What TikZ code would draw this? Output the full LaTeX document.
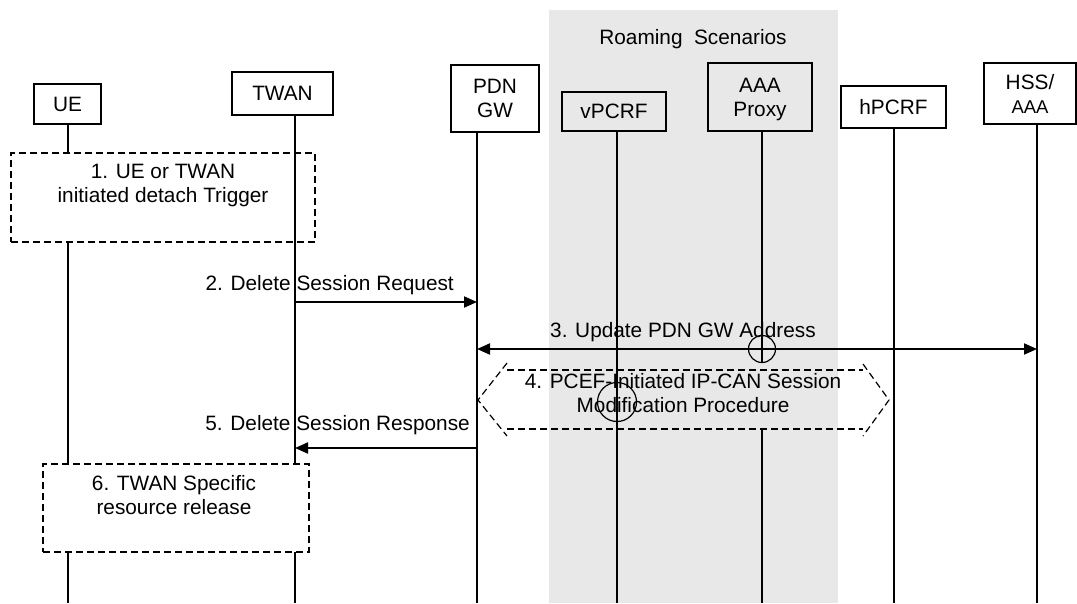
\documentclass[tikz,border=0pt]{standalone}
\usepackage{fontspec}
\setmainfont{Liberation Sans}
\usetikzlibrary{arrows.meta}
\definecolor{roamgray}{HTML}{E8E8E8}
\begin{document}
\begin{tikzpicture}[x=1pt,y=-1pt,
  every node/.style={font=\fontsize{20.8}{24}\selectfont},
  actor/.style={draw,line width=1.4pt,inner sep=0pt,align=center,text depth=0pt},
  life/.style={line width=1.3pt},
  msg/.style={line width=1.9pt,-{Triangle[length=13pt,width=11pt]}},
  dmsg/.style={line width=1.9pt,{Triangle[length=13pt,width=11pt]}-{Triangle[length=13pt,width=11pt]}},
  dbox/.style={draw,line width=1.2pt,dash pattern=on 7pt off 4pt},
  dline/.style={line width=1.2pt,dash pattern=on 7pt off 4pt},
  lbl/.style={inner sep=0pt}
]
\useasboundingbox (0,0) rectangle (1077,603);
% roaming background
\fill[roamgray] (549,10) rectangle (838,603);
\node[lbl,anchor=base] (roam) at (693,44) {Roaming~~Scenarios};

% actors
\node[actor,minimum width=67pt,minimum height=40pt] (ue) at (67.5,104) {UE};
\node[actor,minimum width=101pt,minimum height=43pt] (twan) at (282.5,93.5) {TWAN};
\node[actor,minimum width=88pt,minimum height=67pt] (pdn) at (495,98.5) {PDN\\GW};
\node[actor,minimum width=104pt,minimum height=39pt] (vpcrf) at (614,111.5) {vPCRF};
\node[actor,minimum width=104pt,minimum height=68pt] (aaa) at (760,97) {AAA\\Proxy};
\node[actor,minimum width=105pt,minimum height=42pt] (hpcrf) at (893.5,107) {hPCRF};
\node[actor,minimum width=92pt,minimum height=61pt] (hss) at (1030,93.5) {HSS/\\{\fontsize{18.5}{20}\selectfont AAA}};

% dashed boxes
\node[dbox,minimum width=304pt,minimum height=89pt,inner sep=0pt] (b1) at (163,197.5) {};
\node[lbl,align=center] (b1t) at (163,185) {1. UE or TWAN\\initiated detach Trigger};
\node[dbox,minimum width=266pt,minimum height=88pt,inner sep=0pt] (b6) at (176,508) {};
\node[lbl,align=center] (b6t) at (174,495) {6. TWAN Specific\\resource release};

% lifeline coordinates
\coordinate (ueA) at (68,124);
\coordinate (ueB) at (68,153);
\coordinate (ueC) at (68,242);
\coordinate (ueD) at (68,464);
\coordinate (ueE) at (68,552);
\coordinate (ueF) at (68,603);
\coordinate (twA) at (295,115);
\coordinate (twD) at (295,464);
\coordinate (twE) at (295,552);
\coordinate (twF) at (295,603);
\coordinate (pdA) at (477,132);
\coordinate (pdF) at (477,603);
\coordinate (vpA) at (617,131);
\coordinate (vpF) at (617,603);
\coordinate (aaA) at (762,131);
\coordinate (aaB) at (762,362);
\coordinate (aaC) at (762,429);
\coordinate (aaF) at (762,603);
\coordinate (hpA) at (894,128);
\coordinate (hpF) at (894,603);
\coordinate (hsA) at (1037,124);
\coordinate (hsF) at (1037,603);

\draw[life] (ueA) -- (ueB) (ueC) -- (ueD) (ueE) -- (ueF);
\draw[life] (twA) -- (twD) (twE) -- (twF);
\draw[life] (pdA) -- (pdF);
\draw[life] (vpA) -- (vpF);
\draw[life] (aaA) -- (aaB) (aaC) -- (aaF);
\draw[life] (hpA) -- (hpF);
\draw[life] (hsA) -- (hsF);

% message 2
\coordinate (m2a) at (295,302);
\coordinate (m2b) at (477,302);
\draw[msg] (m2a) -- (m2b);
\node[lbl,anchor=base east] (m2l) at (454,290) {2. Delete Session Request};

% message 3
\coordinate (m3a) at (477,349);
\coordinate (m3b) at (1037,349);
\draw[dmsg] (m3a) -- (m3b);
\node[lbl,anchor=base west] (m3l) at (550,337) {3. Update PDN GW Address};
\draw[line width=1.2pt] (762,349) circle (13.5pt);

% step 4 hexagon
\draw[dline] (507,370) -- (863,370);
\draw[dline] (507,429) -- (863,429);
\draw[dline] (507,363) -- (478,400) -- (507,436);
\draw[dline] (863,364) -- (889,400) -- (863,436);
\node[lbl,align=center] (s4) at (683,393) {4. PCEF-Initiated IP-CAN Session\\Modification Procedure};
\draw[line width=1.2pt] (617,402) circle (19.5pt);

% message 5
\coordinate (m5a) at (477,448);
\coordinate (m5b) at (295,448);
\draw[msg] (m5a) -- (m5b);
\node[lbl,anchor=base east] (m5l) at (470,430) {5. Delete Session Response};
\end{tikzpicture}
\end{document}
